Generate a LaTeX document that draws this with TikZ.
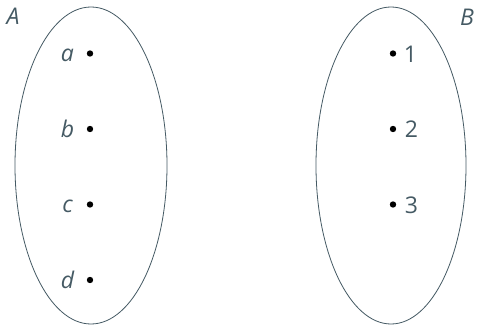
\documentclass[tikz,border=0pt]{standalone}
\usepackage{fontspec}
\setmainfont{Open Sans}
\usetikzlibrary{shapes.geometric}
\definecolor{ink}{HTML}{455A64}
\begin{document}
\begin{tikzpicture}[x=1pt,y=-1pt,
  setline/.style={draw=ink,line width=0.8pt},
  pt/.style={circle,fill=black,inner sep=0pt,minimum size=6.4pt},
  lab/.style={text=ink,font=\fontsize{23}{25}\selectfont,inner sep=0pt,anchor=base},
  setname/.style={text=ink,font=\fontsize{23}{25}\selectfont\itshape,inner sep=0pt,anchor=base}]
\useasboundingbox (0,0) rectangle (477,327);
\fill[white] (0,0) rectangle (477,327);
\node[setline,ellipse,minimum width=152pt,minimum height=317pt,inner sep=0pt] (EA) at (91,165.5) {};
\node[setline,ellipse,minimum width=150pt,minimum height=317pt,inner sep=0pt] (EB) at (391,165.5) {};
\node[setname] (A) at (13,24) {A};
\node[setname] (B) at (467,25) {B};
% left points
\node[pt] (pa) at (90,53.5) {};
\node[pt] (pb) at (90,129) {};
\node[pt] (pc) at (90,204.5) {};
\node[pt] (pd) at (90,280) {};
\node[setname] (la) at (67.5,61.5) {a};
\node[setname] (lb) at (67.5,137) {b};
\node[setname] (lc) at (67.5,212.5) {c};
\node[setname] (ld) at (67.5,288) {d};
% right points
\node[pt] (p1) at (393,53.5) {};
\node[pt] (p2) at (393,129) {};
\node[pt] (p3) at (393,204.5) {};
\node[lab] (l1) at (410.5,62) {1};
\node[lab] (l2) at (411.5,137.5) {2};
\node[lab] (l3) at (411.5,213) {3};
\end{tikzpicture}
\end{document}
